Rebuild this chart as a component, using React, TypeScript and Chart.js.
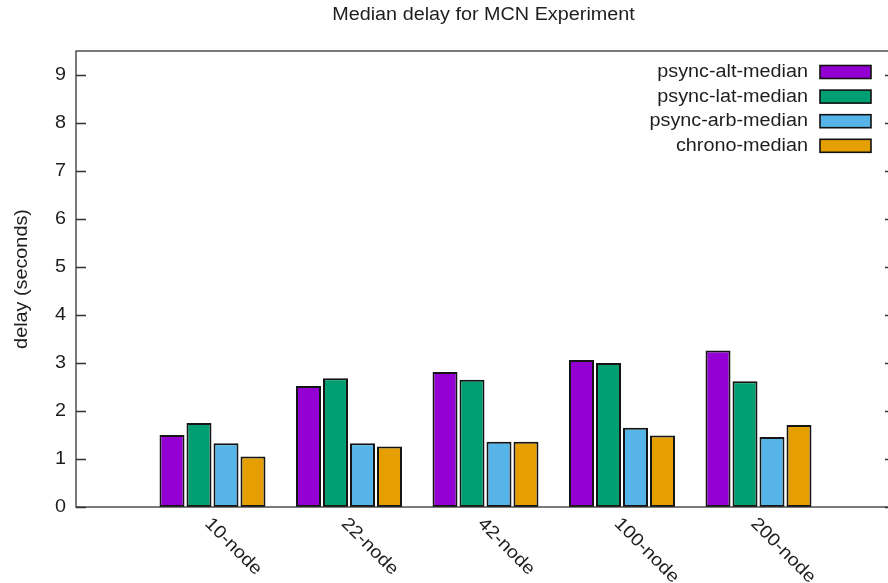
import React, { useEffect, useRef } from "react";
import { Chart, registerables } from "chart.js";

Chart.register(...registerables);

const categories = ["10-node", "22-node", "42-node", "100-node", "200-node"];
const psyncAlt = [1.5, 2.52, 2.81, 3.06, 3.26];
const psyncLat = [1.75, 2.68, 2.65, 3.0, 2.62];
const psyncArb = [1.33, 1.33, 1.36, 1.65, 1.46];
const chrono = [1.05, 1.26, 1.36, 1.49, 1.71];
const seriesNames = ["psync-alt-median", "psync-lat-median", "psync-arb-median", "chrono-median"];
const seriesColors = ["#9400D3", "#009E73", "#56B4E9", "#E69F00"];
const yTicks = [0, 1, 2, 3, 4, 5, 6, 7, 8, 9];
const titleText = "Median delay for MCN Experiment";
const yTitle = "delay (seconds)";

const FONT = '"Liberation Sans", Arial, sans-serif';
const TEXT = "#1e1e1e";
const FS = 18;
const STRETCH = 1.1;

function txt(ctx: CanvasRenderingContext2D, s: string, x: number, y: number, o: any) {
  ctx.save();
  ctx.translate(x, y);
  if (o.rot) ctx.rotate(o.rot);
  ctx.scale(STRETCH, 1);
  ctx.font = `${o.size || FS}px ${FONT}`;
  ctx.textAlign = o.align || "left";
  ctx.textBaseline = o.baseline || "middle";
  ctx.fillStyle = TEXT;
  ctx.fillText(s, 0, 0);
  ctx.restore();
}

const decor = {
  id: "decor",
  afterDraw(chart: any) {
    const ctx: CanvasRenderingContext2D = chart.ctx;
    const a = chart.chartArea;
    const xs = chart.scales.x;
    const ys = chart.scales.y;
    ctx.save();
    ctx.strokeStyle = "#333";
    ctx.lineWidth = 1.3;
    ctx.strokeRect(a.left, a.top, a.right - a.left, a.bottom - a.top);
    // y ticks
    yTicks.forEach((v) => {
      const py = Math.round(ys.getPixelForValue(v)) + 0.5;
      ctx.beginPath();
      ctx.moveTo(a.left, py);
      ctx.lineTo(a.left + 10, py);
      ctx.moveTo(a.right, py);
      ctx.lineTo(a.right - 10, py);
      ctx.stroke();
      txt(ctx, String(v), a.left - 10, py, { align: "right" });
    });
    // x labels
    categories.forEach((c, i) => {
      const px = xs.getPixelForValue(i + 1);
      txt(ctx, c, px - 5, a.bottom + 14, { rot: Math.PI / 4, align: "left" });
    });
    // titles
    txt(ctx, titleText, (a.left + a.right) / 2 - 2, 15, { align: "center" });
    txt(ctx, yTitle, 22, (a.top + a.bottom) / 2, { rot: -Math.PI / 2, align: "center" });
    // legend
    seriesNames.forEach((n, i) => {
      const cy = 72 + i * 24.6;
      txt(ctx, n, 808, cy, { align: "right" });
      ctx.fillStyle = seriesColors[i];
      ctx.fillRect(820, cy - 6.5, 51, 13);
      ctx.strokeStyle = "#111";
      ctx.lineWidth = 1.6;
      ctx.strokeRect(820, cy - 6.5, 51, 13);
    });
    ctx.restore();
  },
};

export default function App() {
  const ref = useRef<HTMLCanvasElement>(null);
  useEffect(() => {
    const labels = ["", ...categories, ""];
    const pad = (arr: number[]) => [null, ...arr, null];
    const all = [psyncAlt, psyncLat, psyncArb, chrono];
    const chart = new Chart(ref.current!, {
      type: "bar",
      data: {
        labels,
        datasets: all.map((d, i) => ({
          label: seriesNames[i],
          data: pad(d) as any,
          backgroundColor: seriesColors[i],
          borderColor: "#151515",
          borderWidth: 2,
          borderSkipped: false,
          categoryPercentage: 0.791,
          barPercentage: 0.926,
        })),
      },
      options: {
        animation: false,
        responsive: false,
        devicePixelRatio: 1,
        layout: { padding: { left: 76, right: 10, top: 51, bottom: 76 } },
        plugins: { legend: { display: false }, title: { display: false }, tooltip: { enabled: false } },
        scales: {
          x: { type: "category", offset: false, display: false },
          y: { min: 0, max: 9.5, display: false },
        },
      },
      plugins: [decor],
    });
    return () => chart.destroy();
  }, []);
  return (
    <div style={{ position: "fixed", left: 0, top: 0, width: 888, height: 583, overflow: "hidden", background: "#fff" }}>
      <canvas ref={ref} width={905} height={583} style={{ width: 905, height: 583, display: "block" }} />
    </div>
  );
}
